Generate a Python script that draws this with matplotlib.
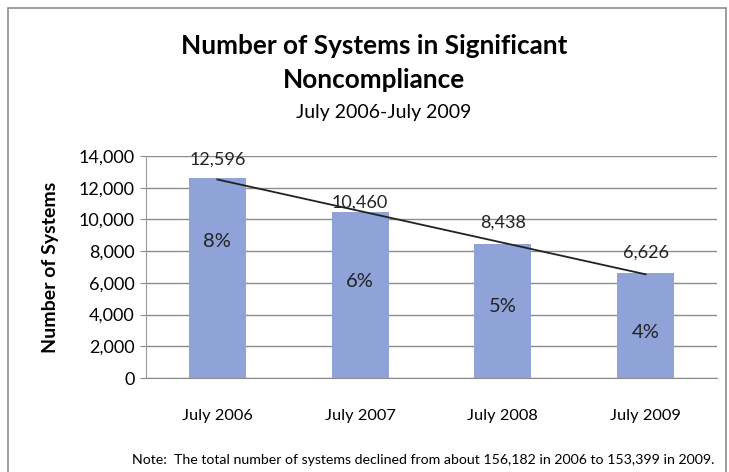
import numpy as np
import matplotlib
matplotlib.use("Agg")
import matplotlib.pyplot as plt
from matplotlib.patches import Rectangle

# data
years = ["July 2006", "July 2007", "July 2008", "July 2009"]
systems = [12596, 10460, 8438, 6626]
pct = ["8%", "6%", "5%", "4%"]

plt.rcParams['font.family'] = ['Lato', 'DejaVu Sans']

fig = plt.figure(figsize=(7.29, 4.72), dpi=100)
ax = fig.add_axes([0.2003, 0.199, 0.7832, 0.4705])

x = np.arange(len(years))
ax.bar(x, systems, width=0.4, color='#8fa3d9', zorder=2)

# linear trendline like the spreadsheet one
k, b = np.polyfit(x, systems, 1)
ax.plot(x, k * x + b, color='#222222', lw=1.3, zorder=3)

# value labels above bars
lab_off = [8, 1, 10, 9]
for i, v in enumerate(systems):
    ax.annotate(f"{v:,}", (x[i], v), xytext=(0, lab_off[i]), textcoords='offset points',
                ha='center', va='bottom', fontsize=13, color='#222222', zorder=4)

# percent labels inside bars
pct_y = [8600, 6100, 4500, 2900]
for i, p in enumerate(pct):
    ax.text(x[i], pct_y[i], p, ha='center', va='center', fontsize=14.5, color='#222222', zorder=4)

ax.set_xlim(-0.5, len(years) - 0.5)
ax.set_ylim(0, 14000)
ax.set_yticks(np.arange(0, 14001, 2000))
ax.set_yticklabels([f"{t:,}" for t in range(0, 14001, 2000)], fontsize=13)
ax.set_xticks(x)
ax.set_xticklabels(years, fontsize=11.8)
ax.tick_params(axis='x', length=0, pad=22)
ax.tick_params(axis='y', length=4, color='#888888', pad=4)
ax.yaxis.grid(True, color='#8c8c8c', lw=1.0)
ax.set_axisbelow(True)
for s in ['top', 'right']:
    ax.spines[s].set_visible(False)
ax.spines['left'].set_color('#9a9a9a')
ax.spines['bottom'].set_color('#8c8c8c')
ax.set_ylabel("Number of Systems", fontsize=14, fontweight='bold', labelpad=14)

fig.text(0.513, 0.902, "Number of Systems in Significant", ha='center', va='center',
         fontsize=18.8, fontweight='bold')
fig.text(0.513, 0.83, "Noncompliance", ha='center', va='center',
         fontsize=18.8, fontweight='bold')
fig.text(0.527, 0.762, "July 2006-July 2009", ha='center', va='center', fontsize=14)
fig.text(0.58, 0.025, "Note:  The total number of systems declined from about 156,182 in 2006 to 153,399 in 2009.",
         ha='center', va='center', fontsize=10.2)

# outer chart border
fig.patches.append(Rectangle((8 / 729, -0.05), 718 / 729, 1 - 8 / 472 + 0.05,
                             transform=fig.transFigure, fill=False,
                             edgecolor='#8c8c8c', lw=1.2))

fig.savefig("out.png", dpi=100)
